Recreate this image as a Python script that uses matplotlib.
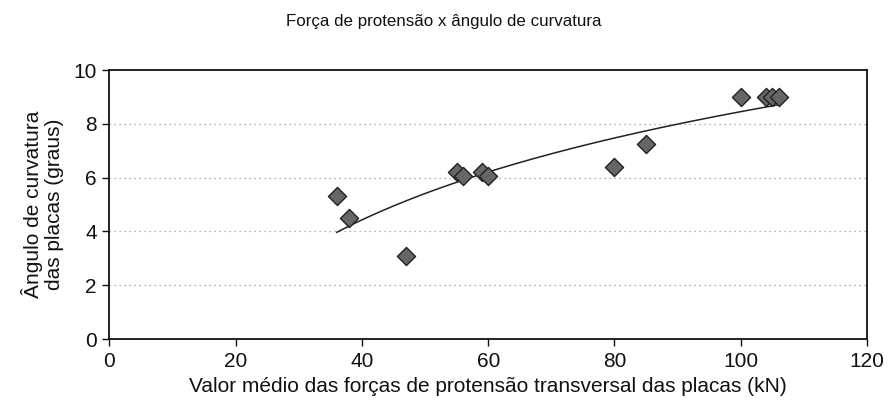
import numpy as np
import matplotlib
matplotlib.use("Agg")
import matplotlib.pyplot as plt

plt.rcParams['font.family'] = ['Liberation Sans', 'DejaVu Sans']

forca = [36, 38, 47, 55, 56, 59, 60, 80, 85, 100, 104, 105, 106]
angulo = [5.3, 4.5, 3.1, 6.2, 6.05, 6.2, 6.05, 6.4, 7.25, 9.0, 9.0, 9.0, 9.0]
xticks = [0, 20, 40, 60, 80, 100, 120]
yticks = [0, 2, 4, 6, 8, 10]

fig = plt.figure(figsize=(8.88, 4.07), dpi=100)
ax = fig.add_axes([0.1233, 0.167, 0.853, 0.661])

x = np.array(forca, dtype=float)
y = np.array(angulo, dtype=float)
a, b = np.polyfit(np.log(x), y, 1)
xs = np.linspace(x.min(), x.max(), 200)
ax.plot(xs, a * np.log(xs) + b, color='#222222', lw=1.1, zorder=2)

ax.scatter(x, y, marker='D', s=85, facecolor='#666666', edgecolor='#222222',
           linewidths=1.0, zorder=3)

ax.set_xlim(0, 120)
ax.set_ylim(0, 10)
ax.set_xticks(xticks)
ax.set_yticks(yticks)
for t in [2, 4, 6, 8]:
    ax.axhline(t, color='#999999', lw=0.9, ls=(0, (1, 3)), zorder=1)
for s in ax.spines.values():
    s.set_linewidth(1.3)
    s.set_color('#111111')
ax.tick_params(direction='out', length=5, width=1.0, labelsize=15,
               colors='#111111', pad=4)

ax.set_xlabel('Valor médio das forças de protensão transversal das placas (kN)',
              fontsize=15, color='#111111', labelpad=5)
ax.set_ylabel('Ângulo de curvatura\ndas placas (graus)', fontsize=15,
              color='#111111', labelpad=7, linespacing=1.1)
fig.text(0.5, 0.947, 'Força de protensão x ângulo de curvatura', ha='center',
         va='center', fontsize=12.2, color='#111111')

fig.savefig('out.png', dpi=100)
